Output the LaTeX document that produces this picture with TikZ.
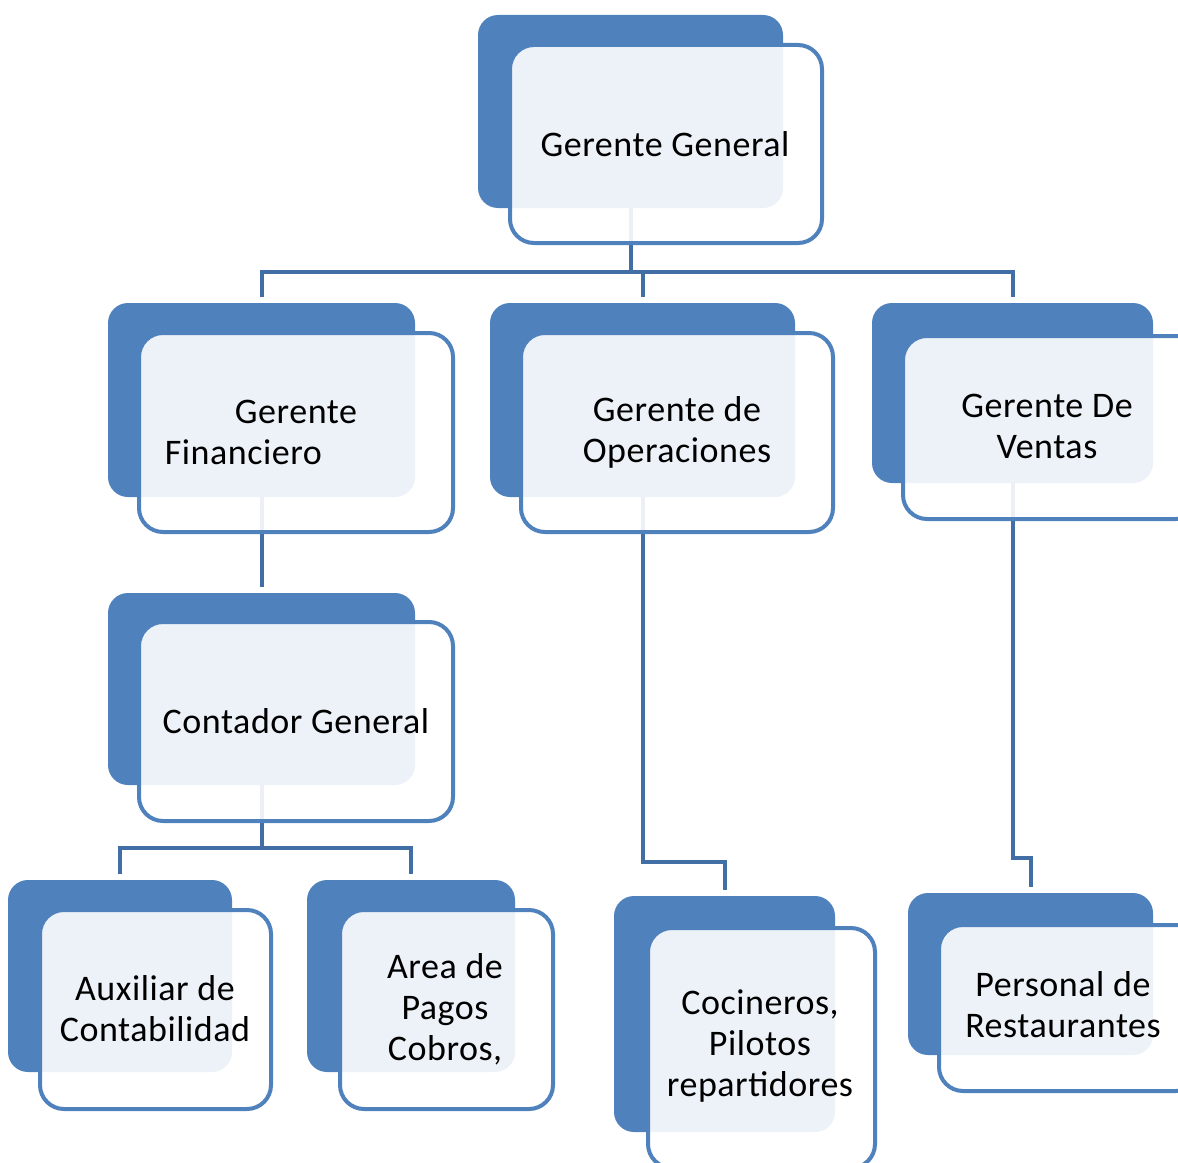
\documentclass[tikz,border=0pt]{standalone}
\usepackage{fontspec}
\setmainfont[LetterSpace=1.5]{Carlito}
\usetikzlibrary{fit}
\definecolor{cardblue}{RGB}{79,129,189}
\definecolor{linkblue}{RGB}{65,110,165}

\begin{document}
\begin{tikzpicture}[
  x=0.75pt, y=-0.75pt,
  font=\fontsize{27}{30.75}\selectfont,
  under/.style={fill=cardblue, rounded corners=15pt, inner sep=0pt},
  card/.style={draw=cardblue, line width=3pt, fill=white, fill opacity=0.9,
               rounded corners=18pt, inner sep=0pt},
  words/.style={align=center, inner sep=0pt},
  link/.style={draw=linkblue, line width=3pt}
]
\clip (0,0) rectangle (1178,1163);
% dark cards behind
\node[under, fit={(478,15)(783,208)}] (gg) {};
\node[under, fit={(108,303)(415,497)}] (gf) {};
\node[under, fit={(490,303)(795,497)}] (go) {};
\node[under, fit={(872,303)(1153,483)}] (gv) {};
\node[under, fit={(108,593)(415,785)}] (cg) {};
\node[under, fit={(8,880)(232,1072)}] (ax) {};
\node[under, fit={(307,880)(515,1072)}] (ap) {};
\node[under, fit={(614,896)(835,1132)}] (co) {};
\node[under, fit={(908,893)(1153,1055)}] (pr) {};

\coordinate (bus1) at (0,272);
\coordinate (bus2) at (0,848);
\coordinate (kink1) at (0,862);
\coordinate (kink2) at (0,858);

\draw[link] (gg.south) -- (gg.south |- bus1);
\draw[link, shorten <=4pt, shorten >=4pt] (gf.north) |- (gv.north |- bus1) -- (gv.north);
\draw[link, shorten <=4pt] (go.north) -- (go.north |- bus1);
\draw[link, shorten >=4pt] (gf.south) -- (cg.north);
\draw[link] (cg.south) -- (cg.south |- bus2);
\draw[link, shorten <=4pt, shorten >=4pt] (ax.north) |- (ap.north |- bus2) -- (ap.north);
\draw[link, shorten >=4pt] (go.south) -- (go.south |- kink1) -| (co.north);
\draw[link, shorten >=4pt] (gv.south) -- (gv.south |- kink2) -| (pr.north);

% light cards in front
\node[card, fit={(510,45)(822,243)}] (ggc) {};
\node[card, fit={(139,333)(453,532)}] (gfc) {};
\node[card, fit={(521,333)(833,532)}] (goc) {};
\node[card, fit={(903,336)(1200,519)}] (gvc) {};
\node[card, fit={(139,622)(453,821)}] (cgc) {};
\node[card, fit={(40,910)(271,1109)}] (axc) {};
\node[card, fit={(340,910)(553,1109)}] (apc) {};
\node[card, fit={(648,928)(875,1168)}] (coc) {};
\node[card, fit={(939,925)(1200,1091)}] (prc) {};

% texts
\node[words] (ggt) at (665,144) {Gerente General};
\node[words] (gft) at (296,432) {Gerente\\Financiero\hspace*{79pt}\mbox{}};
\node[words] (got) at (677,432) {Gerente de\\Operaciones};
\node[words] (gvt) at (1047,426) {Gerente De\\Ventas};
\node[words] (cgt) at (296,721) {Contador General};
\node[words] (axt) at (155,1009) {Auxiliar de\\Contabilidad};
\node[words] (apt) at (445,1009) {Area de\\Pagos\\Cobros,};
\node[words] (cot) at (760,1046) {Cocineros,\\Pilotos\\repartidores};
\node[words] (prt) at (1063,1005) {Personal de\\Restaurantes};
\end{tikzpicture}
\end{document}
